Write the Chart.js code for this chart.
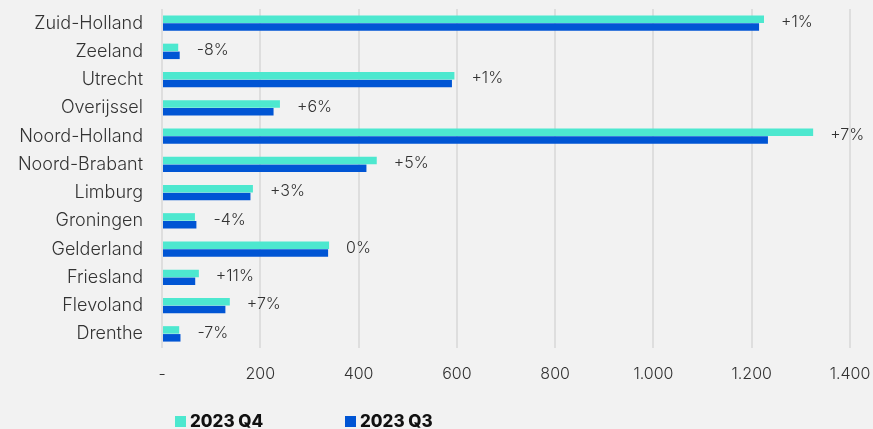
<!DOCTYPE html>
<html>
<head>
<meta charset="utf-8">
<script src="https://cdn.jsdelivr.net/npm/chart.js@4.4.1/dist/chart.umd.min.js"></script>
<style>
  html, body { margin: 0; padding: 0; background: #f2f2f2; }
  #wrap { width: 873px; height: 429px; position: relative; }
</style>
</head>
<body>
<div id="wrap"><canvas id="chart"></canvas></div>
<script>
const provinces = ['Zuid-Holland', 'Zeeland', 'Utrecht', 'Overijssel', 'Noord-Holland', 'Noord-Brabant',
  'Limburg', 'Groningen', 'Gelderland', 'Friesland', 'Flevoland', 'Drenthe'];
const q4 = [1225, 33, 595, 240, 1325, 437, 185, 67, 340, 75, 138, 35];
const q3 = [1215, 36, 590, 227, 1233, 416, 180, 70, 338, 67.6, 129, 37.6];
const changes = ['+1%', '-8%', '+1%', '+6%', '+7%', '+5%', '+3%', '-4%', '0%', '+11%', '+7%', '-7%'];
const xTicks = [0, 200, 400, 600, 800, 1000, 1200, 1400];

const TEXT = '#333333';
const FONT = 'Inter, "Noto Sans", sans-serif';

function fmt(v) {
  if (v === 0) return '-';
  return v.toString().replace(/\B(?=(\d{3})+(?!\d))/g, '.');
}

// percentage change written after the longest bar of each province
const changeLabels = {
  id: 'changeLabels',
  afterDatasetsDraw(chart) {
    const ctx = chart.ctx;
    const a = chart.getDatasetMeta(0).data;
    const b = chart.getDatasetMeta(1).data;
    ctx.save();
    ctx.font = '300 16px ' + FONT;
    ctx.fillStyle = TEXT;
    ctx.textAlign = 'left';
    ctx.textBaseline = 'middle';
    changes.forEach((txt, i) => {
      const x = Math.max(a[i].x, b[i].x) + 17;
      const y = (a[i].y + b[i].y) / 2 - 1;
      ctx.fillText(txt, x, y);
    });
    ctx.restore();
  }
};

// legend drawn under the axis labels
const bottomLegend = {
  id: 'bottomLegend',
  afterDraw(chart) {
    const ctx = chart.ctx;
    const items = [[175, chart.data.datasets[0]], [345, chart.data.datasets[1]]];
    ctx.save();
    ctx.font = '800 17px ' + FONT;
    ctx.textBaseline = 'middle';
    items.forEach(([x, ds]) => {
      ctx.fillStyle = ds.backgroundColor;
      ctx.fillRect(x, 416, 11, 11);
      ctx.fillStyle = '#111111';
      ctx.fillText(ds.label, x + 15, 422);
    });
    ctx.restore();
  }
};

// scales keep their tick padding but must not shrink the plot area
function noEdgePadding(scale) {
  scale.paddingTop = 0;
  scale.paddingBottom = 0;
  scale.paddingLeft = 0;
  scale.paddingRight = 0;
}

new Chart(document.getElementById('chart'), {
  type: 'bar',
  data: {
    labels: provinces,
    datasets: [
      { label: '2023 Q4', data: q4, backgroundColor: '#4de8cf' },
      { label: '2023 Q3', data: q3, backgroundColor: '#0055d4' }
    ]
  },
  options: {
    indexAxis: 'y',
    responsive: true,
    maintainAspectRatio: false,
    animation: false,
    categoryPercentage: 0.56,
    barPercentage: 0.95,
    layout: { padding: { top: 9, right: 23, bottom: 41, left: 0 } },
    scales: {
      x: {
        min: 0,
        max: 1400,
        afterBuildTicks(scale) { scale.ticks = xTicks.map(v => ({ value: v })); },
        afterFit(scale) { scale.height = 40; noEdgePadding(scale); },
        grid: { color: '#dedede', lineWidth: 2, drawTicks: false },
        border: { display: false },
        ticks: {
          padding: 17,
          color: TEXT,
          font: { family: FONT, size: 16, weight: 300 },
          callback: v => fmt(v)
        }
      },
      y: {
        afterFit(scale) { scale.width = 162; noEdgePadding(scale); },
        grid: { display: false, drawTicks: false },
        border: { display: false },
        ticks: {
          padding: 19,
          color: TEXT,
          font: { family: FONT, size: 18, weight: 300 }
        }
      }
    },
    plugins: {
      legend: { display: false },
      tooltip: { enabled: false }
    }
  },
  plugins: [changeLabels, bottomLegend]
});
</script>
</body>
</html>
